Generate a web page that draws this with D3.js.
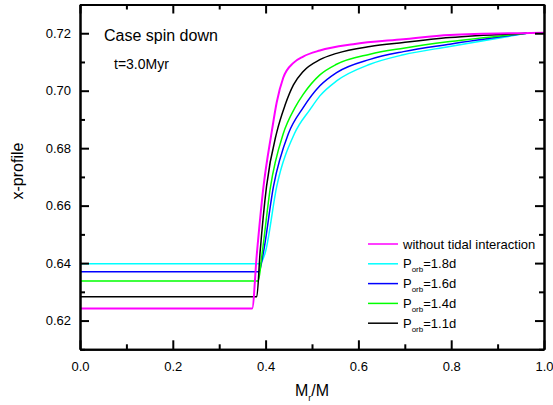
<!DOCTYPE html>
<html>
<head>
<meta charset="utf-8">
<script src="https://cdn.jsdelivr.net/npm/d3@7"></script>
<style>
  body { margin: 0; background: #fff; }
  svg { display: block; font-family: "Liberation Sans", Arial, sans-serif; }
</style>
</head>
<body>
<svg id="chart" width="553" height="405"></svg>
<script>
// series data (Mr/M, x-profile)
var mrNoTide = [0, 0.371, 0.381, 0.395, 0.413, 0.424, 0.438, 0.460, 0.481, 0.517, 0.589, 0.697, 0.797, 0.970, 1.0]
var xNoTide  = [0.6242, 0.6242, 0.6430, 0.6660, 0.6855, 0.6960, 0.7045, 0.7097, 0.7119, 0.7140, 0.7162, 0.7179, 0.7194, 0.7201, 0.7202]

var mr18 = [0, 0.388, 0.399, 0.424, 0.462, 0.496, 0.517, 0.553, 0.625, 0.697, 0.797, 0.963]
var x18  = [0.6398, 0.6398, 0.6435, 0.6667, 0.6850, 0.6935, 0.6982, 0.7034, 0.7092, 0.7125, 0.7154, 0.7200]

var mr16 = [0, 0.386, 0.395, 0.417, 0.449, 0.481, 0.517, 0.553, 0.625, 0.697, 0.797, 0.963]
var x16  = [0.6370, 0.6370, 0.6435, 0.6667, 0.6850, 0.6941, 0.7017, 0.7063, 0.7109, 0.7136, 0.7162, 0.7200]

var mr14 = [0, 0.384, 0.393, 0.410, 0.438, 0.463, 0.481, 0.517, 0.553, 0.625, 0.697, 0.797, 0.963]
var x14  = [0.6338, 0.6338, 0.6440, 0.6660, 0.6850, 0.6940, 0.6987, 0.7055, 0.7092, 0.7127, 0.7148, 0.7171, 0.7200]

var mr11 = [0, 0.381, 0.388, 0.402, 0.424, 0.442, 0.460, 0.481, 0.517, 0.553, 0.625, 0.697, 0.797, 0.963]
var x11  = [0.6283, 0.6283, 0.6435, 0.6667, 0.6855, 0.6950, 0.7020, 0.7067, 0.7108, 0.7130, 0.7154, 0.7168, 0.7185, 0.7200]

var legendLabels = ["without tidal interaction", "1.8d", "1.6d", "1.4d", "1.1d"]
var seriesColors = ["#ff00ff", "#00ffff", "#0000ff", "#00ff00", "#000000"]

var xTicks = [0.0, 0.2, 0.4, 0.6, 0.8, 1.0]
var xMinor = [0.1, 0.3, 0.5, 0.7, 0.9]
var yTicks = [0.62, 0.64, 0.66, 0.68, 0.70, 0.72]
var yMinor = [0.61, 0.63, 0.65, 0.67, 0.69, 0.71, 0.73]

var series = [
  {mr: mrNoTide, v: xNoTide},
  {mr: mr18, v: x18},
  {mr: mr16, v: x16},
  {mr: mr14, v: x14},
  {mr: mr11, v: x11}
]

var svg = d3.select("#chart")
var plotL = 80, plotR = 544, plotT = 4.5, plotB = 349.3

var x = d3.scaleLinear().domain([0, 1]).range([plotL, plotR])
var y = d3.scaleLinear().domain([0.61, 0.73]).range([plotB, plotT])

svg.append("clipPath").attr("id", "clip")
  .append("rect")
  .attr("x", plotL).attr("y", plotT)
  .attr("width", plotR - plotL).attr("height", plotB - plotT)

var line = d3.line()
  .x(function(d){ return x(d[0]) })
  .y(function(d){ return y(d[1]) })
  .curve(d3.curveMonotoneX)

// draw magenta last so it sits on top
var order = [1, 2, 3, 4, 0]
svg.append("g").attr("clip-path", "url(#clip)")
  .selectAll("path")
  .data(order)
  .enter()
  .append("path")
  .attr("d", function(i){
    var s = series[i]
    return line(s.mr.map(function(m, k){ return [m, s.v[k]] }))
  })
  .attr("fill", "none")
  .attr("stroke", function(i){ return seriesColors[i] })
  .attr("stroke-width", function(i){ return i == 0 ? 2 : 1.5 })

// axes, ticks pointing inward
function styleAxis(g){
  g.selectAll(".domain").attr("stroke", "#000").attr("stroke-width", 2)
  g.selectAll(".tick line").attr("stroke", "#000").attr("stroke-width", 2)
  g.selectAll("text").attr("font-size", "13px").attr("fill", "#000")
    .attr("font-family", "Liberation Sans, Arial, sans-serif")
}

svg.append("g").attr("transform", "translate(0," + plotB + ")")
  .call(d3.axisBottom(x).tickValues(xTicks).tickFormat(d3.format(".1f"))
    .tickSizeInner(-9).tickSizeOuter(0).tickPadding(12))
  .call(styleAxis)
svg.append("g").attr("transform", "translate(0," + plotB + ")")
  .call(d3.axisBottom(x).tickValues(xMinor).tickFormat("").tickSizeInner(-5).tickSizeOuter(0))
  .call(styleAxis)

svg.append("g").attr("transform", "translate(0," + plotT + ")")
  .call(d3.axisTop(x).tickValues(xTicks).tickFormat("").tickSizeInner(-9).tickSizeOuter(0))
  .call(styleAxis)
svg.append("g").attr("transform", "translate(0," + plotT + ")")
  .call(d3.axisTop(x).tickValues(xMinor).tickFormat("").tickSizeInner(-5).tickSizeOuter(0))
  .call(styleAxis)

svg.append("g").attr("transform", "translate(" + plotL + ",0)")
  .call(d3.axisLeft(y).tickValues(yTicks).tickFormat(d3.format(".2f"))
    .tickSizeInner(-9).tickSizeOuter(0).tickPadding(9))
  .call(styleAxis)
svg.append("g").attr("transform", "translate(" + plotL + ",0)")
  .call(d3.axisLeft(y).tickValues(yMinor).tickFormat("").tickSizeInner(-5).tickSizeOuter(0))
  .call(styleAxis)

svg.append("g").attr("transform", "translate(" + plotR + ",0)")
  .call(d3.axisRight(y).tickValues(yTicks).tickFormat("").tickSizeInner(-9).tickSizeOuter(0))
  .call(styleAxis)
svg.append("g").attr("transform", "translate(" + plotR + ",0)")
  .call(d3.axisRight(y).tickValues(yMinor).tickFormat("").tickSizeInner(-5).tickSizeOuter(0))
  .call(styleAxis)

// axis titles
svg.append("text")
  .attr("transform", "translate(23,171) rotate(-90)")
  .attr("text-anchor", "middle")
  .attr("font-size", "16px")
  .text("x-profile")

var xt = svg.append("text")
  .attr("x", 295).attr("y", 396)
  .attr("font-size", "16px")
xt.append("tspan").text("M")
xt.append("tspan").attr("font-size", "9px").attr("dy", 5).text("r")
xt.append("tspan").attr("dy", -5).text("/M")

// annotations
svg.append("text").attr("x", 104).attr("y", 40.5)
  .attr("font-size", "16px").text("Case spin down")
svg.append("text").attr("x", 114).attr("y", 69)
  .attr("font-size", "14px").text("t=3.0Myr")

// legend
var leg = svg.append("g")
var rows = leg.selectAll("g")
  .data(legendLabels)
  .enter()
  .append("g")
  .attr("transform", function(d, i){ return "translate(0," + (244 + i * 19.8) + ")" })

rows.append("line")
  .attr("x1", 368).attr("x2", 398)
  .attr("stroke", function(d, i){ return seriesColors[i] })
  .attr("stroke-width", 1.5)

rows.each(function(d, i){
  var t = d3.select(this).append("text")
    .attr("x", 403).attr("y", 4.5)
    .attr("font-size", "13px")
  if (i == 0) {
    t.text(d)
  } else {
    t.append("tspan").text("P")
    t.append("tspan").attr("font-size", "8px").attr("dy", 4).text("orb")
    t.append("tspan").attr("dy", -4).text("=" + d)
  }
})
</script>
</body>
</html>
